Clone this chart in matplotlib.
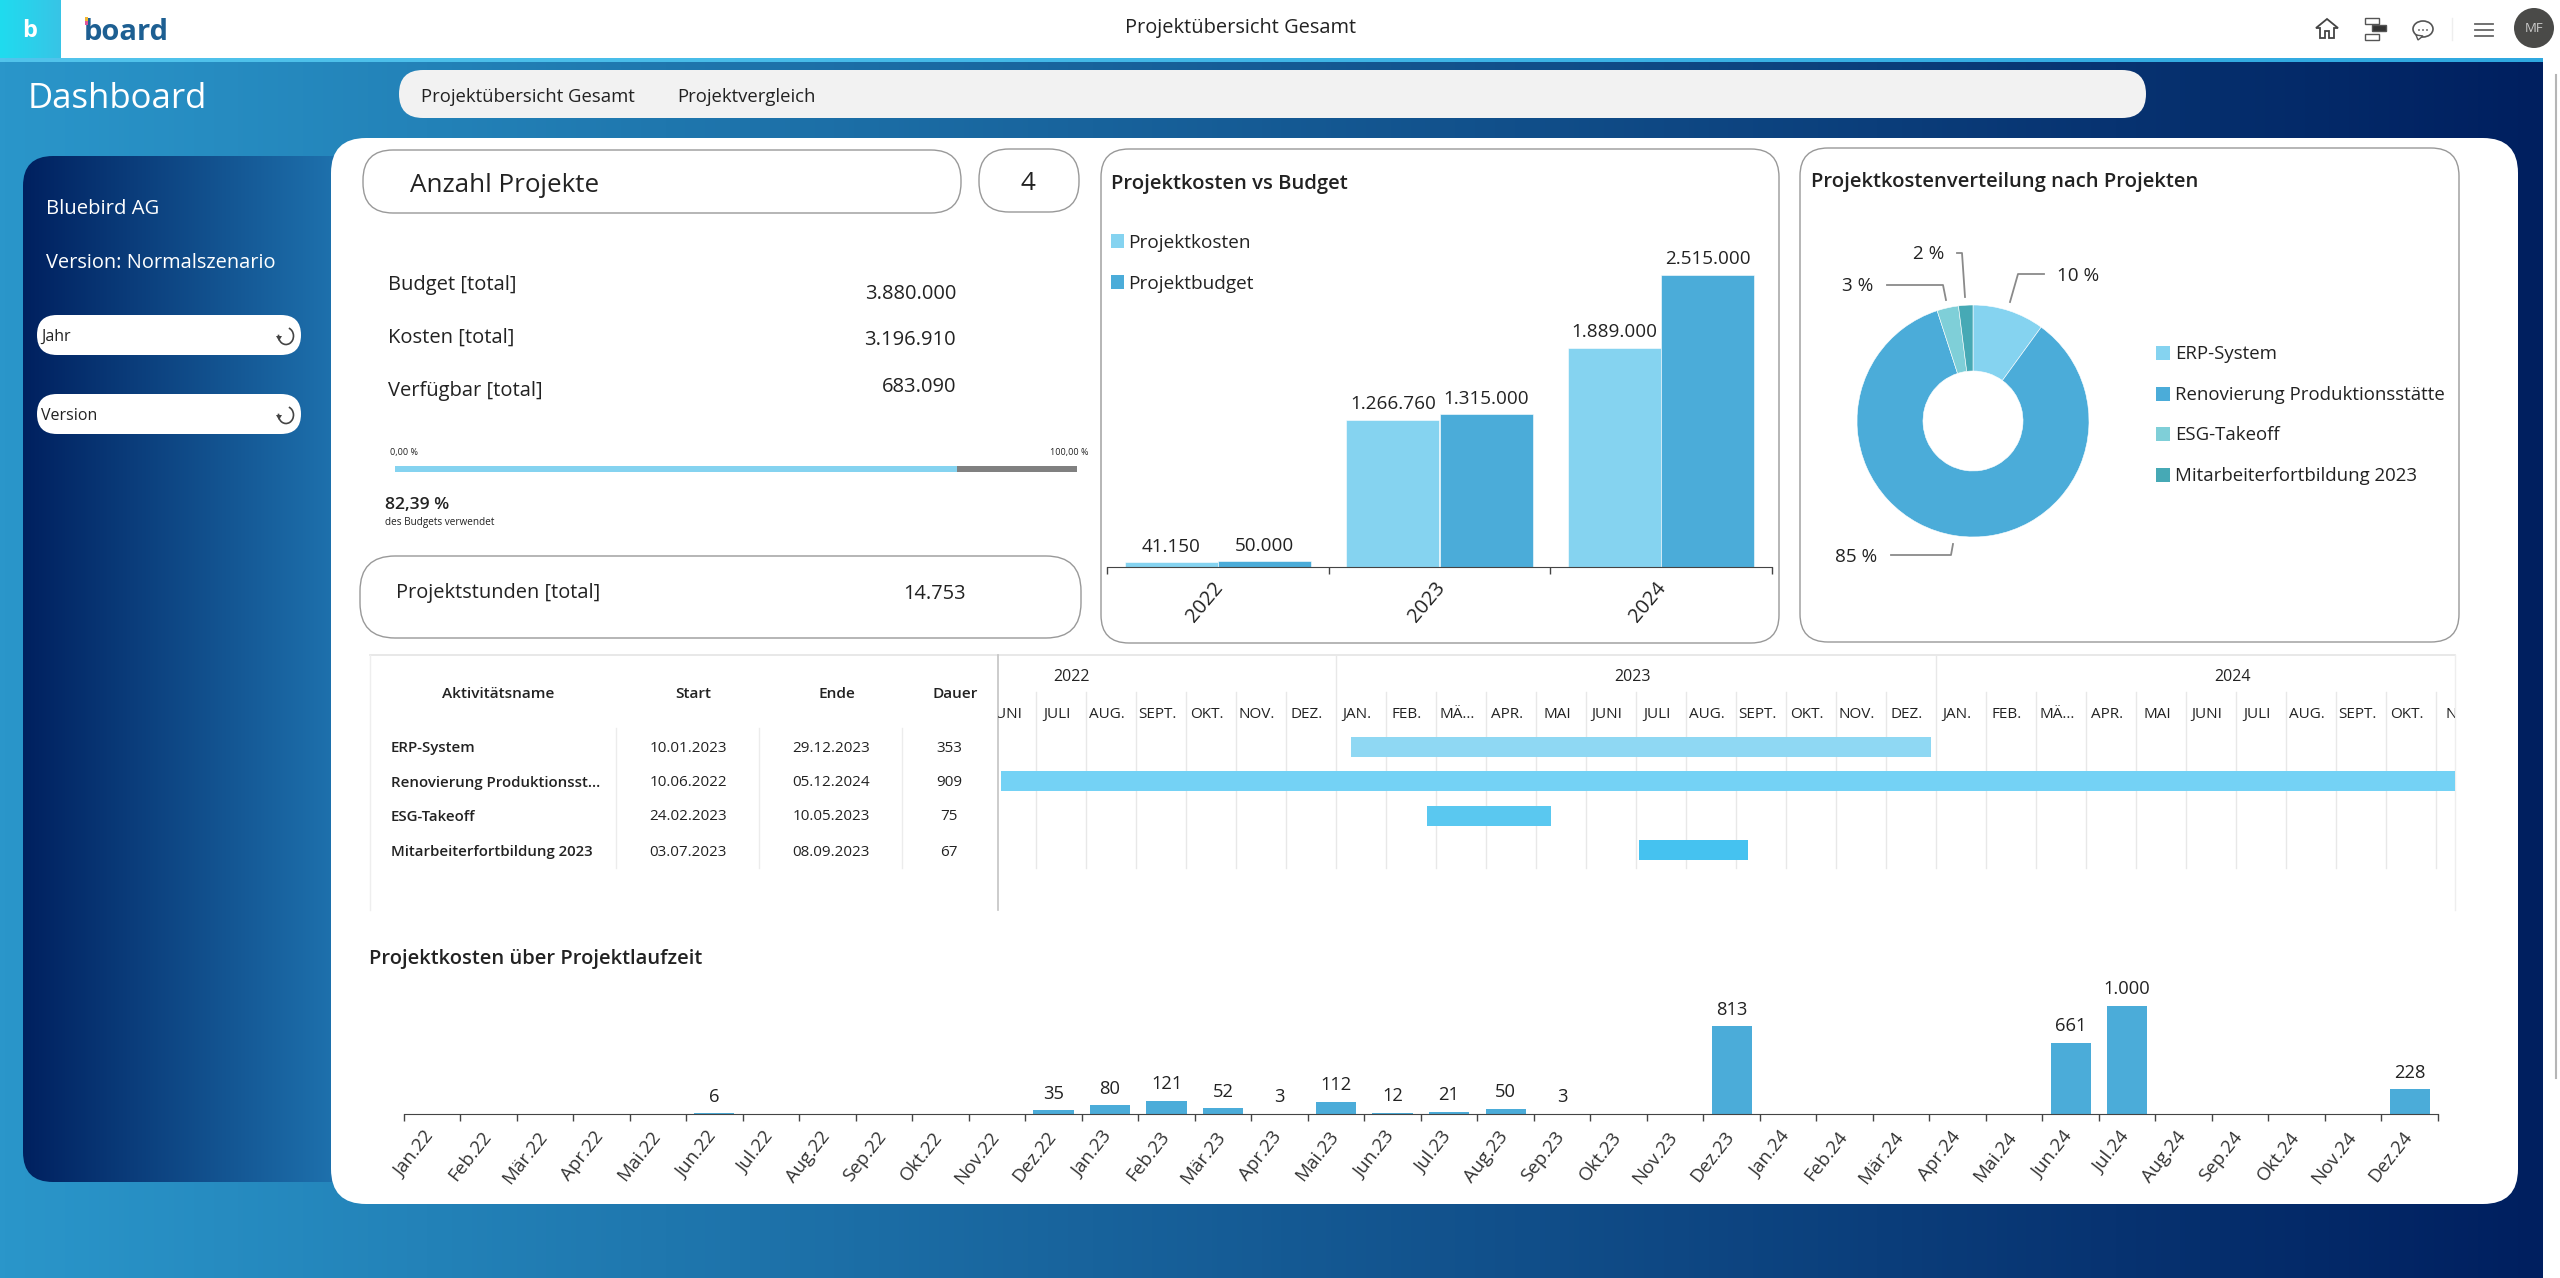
import numpy as np
import pandas as pd
import matplotlib
matplotlib.use('Agg')
import matplotlib.pyplot as plt
from matplotlib.patches import FancyBboxPatch, Rectangle, Circle, Arc, Polygon, Ellipse
from matplotlib.transforms import ScaledTranslation

plt.rcParams['font.family'] = ['Open Sans', 'DejaVu Sans']

W, H = 2560, 1278
GRAU = '#999999'
TEXT = '#222222'
HELL = '#85d3f0'
DUNKEL = '#4bacd9'

# Daten
jahre = ['2022', '2023', '2024']
projektkosten = [41150, 1266760, 1889000]
projektbudget = [50000, 1315000, 2515000]

projekte = ['ERP-System', 'Renovierung Produktionsstätte', 'ESG-Takeoff', 'Mitarbeiterfortbildung 2023']
anteile = [10, 85, 3, 2]
anteil_farben = ['#85d3f0', '#4bacd9', '#7fcfd8', '#46a9b5']

tabelle_namen = ['ERP-System', 'Renovierung Produktionsst...', 'ESG-Takeoff', 'Mitarbeiterfortbildung 2023']
start_daten = ['10.01.2023', '10.06.2022', '24.02.2023', '03.07.2023']
ende_daten = ['29.12.2023', '05.12.2024', '10.05.2023', '08.09.2023']
dauer = [353, 909, 75, 67]
gantt_farben = ['#8fd8f3', '#74d2f5', '#5ac8f0', '#45c2f0']
gantt_monate = ['JAN.', 'FEB.', 'MÄ...', 'APR.', 'MAI', 'JUNI', 'JULI', 'AUG.', 'SEPT.', 'OKT.', 'NOV.', 'DEZ.']

monate = ['Jan', 'Feb', 'Mär', 'Apr', 'Mai', 'Jun', 'Jul', 'Aug', 'Sep', 'Okt', 'Nov', 'Dez']
monat_labels = [f'{m}.{j}' for j in (22, 23, 24) for m in monate]
monat_kosten = [0, 0, 0, 0, 0, 6, 0, 0, 0, 0, 0, 35,
                80, 121, 52, 3, 112, 12, 21, 50, 3, 0, 0, 813,
                0, 0, 0, 0, 0, 661, 1000, 0, 0, 0, 0, 228]

kennzahlen = ['Budget [total]', 'Kosten [total]', 'Verfügbar [total]']
kennzahl_werte = ['3.880.000', '3.196.910', '683.090']
budget_verwendet = 82.39


def de(v):
    return f'{v:,}'.replace(',', '.')


def px_axes(x0, y0, x1, y1, zorder=5):
    a = fig.add_axes([x0 / W, 1 - y1 / H, (x1 - x0) / W, (y1 - y0) / H], zorder=zorder)
    a.patch.set_visible(False)
    return a


def box(x0, y0, x1, y1, r, fc='white', ec=GRAU, lw=1.0, z=2):
    p = FancyBboxPatch((x0, y0), x1 - x0, y1 - y0, boxstyle=f'round,pad=0,rounding_size={r}',
                       fc=fc, ec=ec, lw=lw, zorder=z)
    ax.add_patch(p)
    return p


def txt(x, y, s, size=12.5, color=TEXT, ha='left', va='center', **kw):
    ax.text(x, y + 2, s, fontsize=size, color=color, ha=ha, va=va, zorder=6, **kw)


def verlauf(x0, y0, x1, y1, c0, c1, clip=None, z=1):
    c0 = np.array(matplotlib.colors.to_rgb(c0))
    c1 = np.array(matplotlib.colors.to_rgb(c1))
    t = np.linspace(0, 1, 512)[None, :, None]
    im = ax.imshow(c0 + (c1 - c0) * t, extent=(x0, x1, y1, y0), aspect='auto', zorder=z)
    if clip is not None:
        im.set_clip_path(clip)
    return im


def schieben(labels, dx, dy):
    # Tick-Labels um ein paar Pixel verschieben, erst nach tick_params aufrufen
    versatz = ScaledTranslation(dx / 100, dy / 100, fig.dpi_scale_trans)
    for lab in labels:
        lab.set_transform(lab.get_transform() + versatz)


fig = plt.figure(figsize=(W / 100, H / 100), dpi=100, facecolor='white')
ax = fig.add_axes([0, 0, 1, 1], zorder=0)

# Hintergrund und Kopfzeile
verlauf(0, 58, 2543, H, '#2a96ca', '#001f5f')
ax.add_patch(Rectangle((0, 0), W, 58, fc='white', ec='none', zorder=2))
verlauf(0, 0, 61, 58, '#1fdcef', '#38c4e6', z=3)
verlauf(0, 58, W, 62, '#52c4ec', '#2fa8e0', z=3)
ax.set_xlim(0, W)
ax.set_ylim(H, 0)
ax.axis('off')

txt(30, 29, 'b', size=17, color='white', ha='center', fontweight='bold')
txt(84, 30, 'board', size=21, color='#1d5f92', fontweight='bold')
ax.add_patch(Rectangle((85, 17), 3, 4, fc='#f2b632', ec='none', zorder=7))
ax.add_patch(Rectangle((85, 21), 3, 4, fc='#e0569a', ec='none', zorder=7))
txt(1241, 26, 'Projektübersicht Gesamt', size=14.4, ha='center')

# Symbole oben rechts
ax.add_patch(Polygon([[2316, 28], [2327, 19], [2338, 28], [2334, 28], [2334, 38], [2329, 38], [2329, 31],
                      [2325, 31], [2325, 38], [2320, 38], [2320, 28]], fc='none', ec='#444444', lw=1.3, zorder=6))
for yy, xx, ww, fc in [(18, 2365, 14, 'white'), (25, 2372, 14, '#333333'), (34, 2365, 14, 'white')]:
    ax.add_patch(Rectangle((xx, yy), ww, 6, fc=fc, ec='#555555', lw=1, zorder=6))
ax.add_patch(Ellipse((2423, 29), 20, 16, fc='white', ec='#555555', lw=1.2, zorder=6))
ax.add_patch(Polygon([[2416, 35], [2418, 40], [2423, 36]], fc='white', ec='#555555', lw=1, zorder=7))
for xx in (2419, 2423, 2427):
    ax.add_patch(Circle((xx, 30), 0.9, fc='#555555', ec='none', zorder=8))
ax.plot([2452, 2452], [18, 40], color='#eeeeee', lw=1, zorder=6)
for yy in (24, 30, 36):
    ax.plot([2475, 2493], [yy, yy], color='#666666', lw=1.3, zorder=6)
ax.add_patch(Circle((2534, 28), 20, fc='#4a4a48', ec='none', zorder=6))
txt(2534, 27, 'MF', size=9.5, color='#c9c9c9', ha='center')

# Navigation
txt(28, 97, 'Dashboard', size=25, color='white')
box(399, 70, 2146, 118, 24, fc='#f2f2f2', ec='none')
txt(421, 95, 'Projektübersicht Gesamt', size=13.3)
txt(677, 95, 'Projektvergleich', size=13.3)

# Seitenleiste
seite = box(23, 156, 380, 1182, 30, fc='none', ec='none')
verlauf(23, 156, 345, 1182, '#00205f', '#1f74b0', clip=seite)
txt(46, 207, 'Bluebird AG', size=14.6, color='white')
txt(46, 261, 'Version: Normalszenario', size=14.4, color='white')
for y0, name in [(315, 'Jahr'), (394, 'Version')]:
    box(37, y0, 301, y0 + 40, 20, ec='none', z=3)
    txt(41, y0 + 20, name, size=11.5)
    ax.add_patch(Arc((286, y0 + 21), 15, 17, theta1=-70, theta2=190, ec='#444444', lw=1.2, zorder=6))
    ax.add_patch(Polygon([[276, y0 + 21], [282, y0 + 21], [279, y0 + 26]], fc='#444444', ec='none', zorder=6))

# Hauptfläche
box(331, 138, 2518, 1204, 35, ec='none', z=3)
ax.add_patch(Rectangle((2543, 58), 17, H, fc='white', ec='none', zorder=3))
ax.plot([2556, 2556], [75, 1078], color='#b5b5b5', lw=1.5, zorder=4)

# KPI-Kacheln
box(363, 150, 961, 213, 30, z=4)
txt(410, 183, 'Anzahl Projekte', size=18.7)
box(979, 149, 1079, 212, 30, z=4)
txt(1028, 182, '4', size=18.7, ha='center')
for name, wert, yn, yw in zip(kennzahlen, kennzahl_werte, [283, 336, 389], [292, 338, 385]):
    txt(388, yn, name, size=14.5)
    txt(956, yw, wert, size=14.5, ha='right')

fort = px_axes(395, 466, 1077, 472)
fort.barh([0], [budget_verwendet], height=1, color=HELL)
fort.barh([0], [100 - budget_verwendet], left=[budget_verwendet], height=1, color='#808080')
fort.set_xlim(0, 100)
fort.set_ylim(-0.5, 0.5)
fort.axis('off')
txt(390, 450, '0,00 %', size=6.5)
txt(1088, 450, '100,00 %', size=6.5, ha='right')
txt(385, 503, f'{budget_verwendet:.2f} %'.replace('.', ','), size=12.6, fontweight='semibold')
txt(385, 521, 'des Budgets verwendet', size=7.2)

box(360, 556, 1081, 638, 35, z=4)
txt(396, 591, 'Projektstunden [total]', size=14.4)
txt(966, 592, '14.753', size=14.4, ha='right')

# Projektkosten vs Budget
box(1101, 149, 1779, 643, 28, z=4)
txt(1111, 182, 'Projektkosten vs Budget', size=14.6, fontweight='semibold')
for yy, farbe, name in [(241, HELL, 'Projektkosten'), (282, DUNKEL, 'Projektbudget')]:
    ax.add_patch(Rectangle((1111, yy - 7), 13, 14, fc=farbe, ec='none', zorder=6))
    txt(1128, yy, name, size=13.7)

bar_ax = px_axes(1107, 200, 1772, 567)
pos = np.arange(len(jahre))
bw = 0.42
b1 = bar_ax.bar(pos - bw / 2, projektkosten, width=bw, color=HELL, edgecolor='white', linewidth=0.4)
b2 = bar_ax.bar(pos + bw / 2, projektbudget, width=bw, color=DUNKEL, edgecolor='white', linewidth=0.4)
for bars in (b1, b2):
    for b in bars:
        bar_ax.annotate(de(int(b.get_height())), (b.get_x() + b.get_width() / 2, b.get_height()),
                        xytext=(0, 11.3), textcoords='offset points', ha='center', va='center',
                        fontsize=13.6, color=TEXT)
bar_ax.set_xlim(-0.5, 2.5)
bar_ax.set_ylim(0, 2515000 * 367 / 292)
bar_ax.set_xticks(np.arange(-0.5, 3), minor=True)
bar_ax.set_xticks(pos)
bar_ax.set_xticklabels(jahre, rotation=50, fontsize=14.5, color=TEXT, ha='center')
bar_ax.tick_params(axis='x', which='major', length=0, pad=14)
bar_ax.tick_params(axis='x', which='minor', length=5, width=1, color='#444444')
schieben(bar_ax.get_xticklabels(), -13, 8)
bar_ax.set_yticks([])
for s in ('top', 'left', 'right'):
    bar_ax.spines[s].set_visible(False)
bar_ax.spines['bottom'].set_color('#444444')

# Projektkostenverteilung
box(1800, 148, 2459, 642, 28, z=4)
txt(1811, 180, 'Projektkostenverteilung nach Projekten', size=14.6, fontweight='semibold')
pie_ax = px_axes(1973 - 116, 421 - 116, 1973 + 116, 421 + 116)
pie_ax.pie(anteile, colors=anteil_farben, startangle=90, counterclock=False, radius=1,
           wedgeprops=dict(width=66 / 116, edgecolor='white', linewidth=0.4))
pie_ax.set_xlim(-1, 1)
pie_ax.set_ylim(-1, 1)

leader = {'10 %': ([2010, 2018, 2044], [302, 274, 274], 2078, 274),
          '2 %': ([1965, 1962, 1957], [297, 253, 253], 1929, 252),
          '3 %': ([1946, 1943, 1887], [300, 285, 285], 1858, 284),
          '85 %': ([1953, 1951, 1891], [544, 555, 555], 1856, 555)}
for lab, (lx, ly, tx, ty) in leader.items():
    ax.plot(lx, ly, color='#8a8a8a', lw=1.3, zorder=6)
    txt(tx, ty, lab, size=13.6, ha='center')

for name, farbe, yy in zip(projekte, anteil_farben, [353, 394, 434, 475]):
    ax.add_patch(Rectangle((2156, yy - 7), 14, 14, fc=farbe, ec='none', zorder=6))
    txt(2175, yy - 1, name, size=13.4)

# Tabelle links vom Gantt
zeilen = [747, 782, 816, 851]
for x, name in [(498, 'Aktivitätsname'), (693, 'Start'), (837, 'Ende'), (955, 'Dauer')]:
    txt(x, 692, name, size=11.1, ha='center', fontweight='semibold')
for i, yy in enumerate(zeilen):
    txt(391, yy - 1, tabelle_namen[i], size=10.8, fontweight='semibold')
    txt(688, yy - 1, start_daten[i], size=11, ha='center')
    txt(831, yy - 1, ende_daten[i], size=11, ha='center')
    txt(949, yy - 1, str(dauer[i]), size=11, ha='center')
for x in (616, 759, 902):
    ax.plot([x, x], [728, 868], color='#ececec', lw=1, zorder=6)
ax.plot([370, 2455], [655, 655], color='#e4e4e4', lw=1.2, zorder=6)
ax.plot([370, 370], [655, 910], color='#eeeeee', lw=1, zorder=6)
ax.plot([2455, 2455], [655, 910], color='#eeeeee', lw=1, zorder=6)
ax.plot([998, 998], [655, 910], color='#c4c4c4', lw=1.2, zorder=6)


# Gantt: Monate seit Jan. 2022 als x-Achse
def monat_pos(s):
    d = pd.to_datetime(s, dayfirst=True)
    return (d.year - 2022) * 12 + d.month - 1 + (d.day - 1) / d.days_in_month


gantt = px_axes(998, 655, 2455, 910)
for i in range(len(start_daten)):
    a0 = monat_pos(start_daten[i])
    a1 = monat_pos(ende_daten[i])
    gantt.barh(i, a1 - a0, left=a0, height=0.583, color=gantt_farben[i], zorder=3)
gantt.set_xlim(12 - 338 / 50, 12 + 1119 / 50)
gantt.set_ylim((910 - 747) / 34.3, (655 - 747) / 34.3)
gantt.axis('off')
for m in range(6, 35):
    oben = -2.68 if m % 12 == 0 else -1.6
    gantt.plot([m, m], [oben, 3.53], color='#e8e8e8', lw=1, zorder=1)
for m in range(5, 35):
    # Nov. 2024 wird am Rand abgeschnitten
    versatz = 0.56 if m == 34 else 0.42
    gantt.text(m + versatz, -0.96, gantt_monate[m % 12], fontsize=11, color=TEXT, ha='center', va='center',
               clip_on=True)
for yy, m in [('2022', 6.7), ('2023', 17.92), ('2024', 29.92)]:
    gantt.text(m, -2.04, yy, fontsize=11.5, color=TEXT, ha='center', va='center')

# Projektkosten über Projektlaufzeit
txt(369, 957, 'Projektkosten über Projektlaufzeit', size=14.5, fontweight='semibold')
zeit = px_axes(403.6, 970, 2438, 1114)
xs = np.arange(len(monat_kosten))
balken = zeit.bar(xs, monat_kosten, width=0.71, color=DUNKEL)
for x, v in zip(xs, monat_kosten):
    if v > 0:
        zeit.annotate(de(v), (x, v), xytext=(0, 12), textcoords='offset points', ha='center', va='center',
                      fontsize=13.2, color=TEXT)
zeit.set_xlim(-0.5, 35.5)
zeit.set_ylim(0, 1000 * 144 / 108)
zeit.set_xticks(np.arange(-0.5, 36), minor=True)
zeit.set_xticks(xs)
zeit.set_xticklabels(monat_labels, rotation=52, ha='right', rotation_mode='anchor', fontsize=13.5, color='#333333')
zeit.tick_params(axis='x', which='major', length=0, pad=10)
zeit.tick_params(axis='x', which='minor', length=5, width=1, color='#444444')
schieben(zeit.get_xticklabels(), -8, 0)
zeit.set_yticks([])
for s in ('top', 'left', 'right'):
    zeit.spines[s].set_visible(False)
zeit.spines['bottom'].set_color('#444444')

fig.savefig('out.png', dpi=100)
